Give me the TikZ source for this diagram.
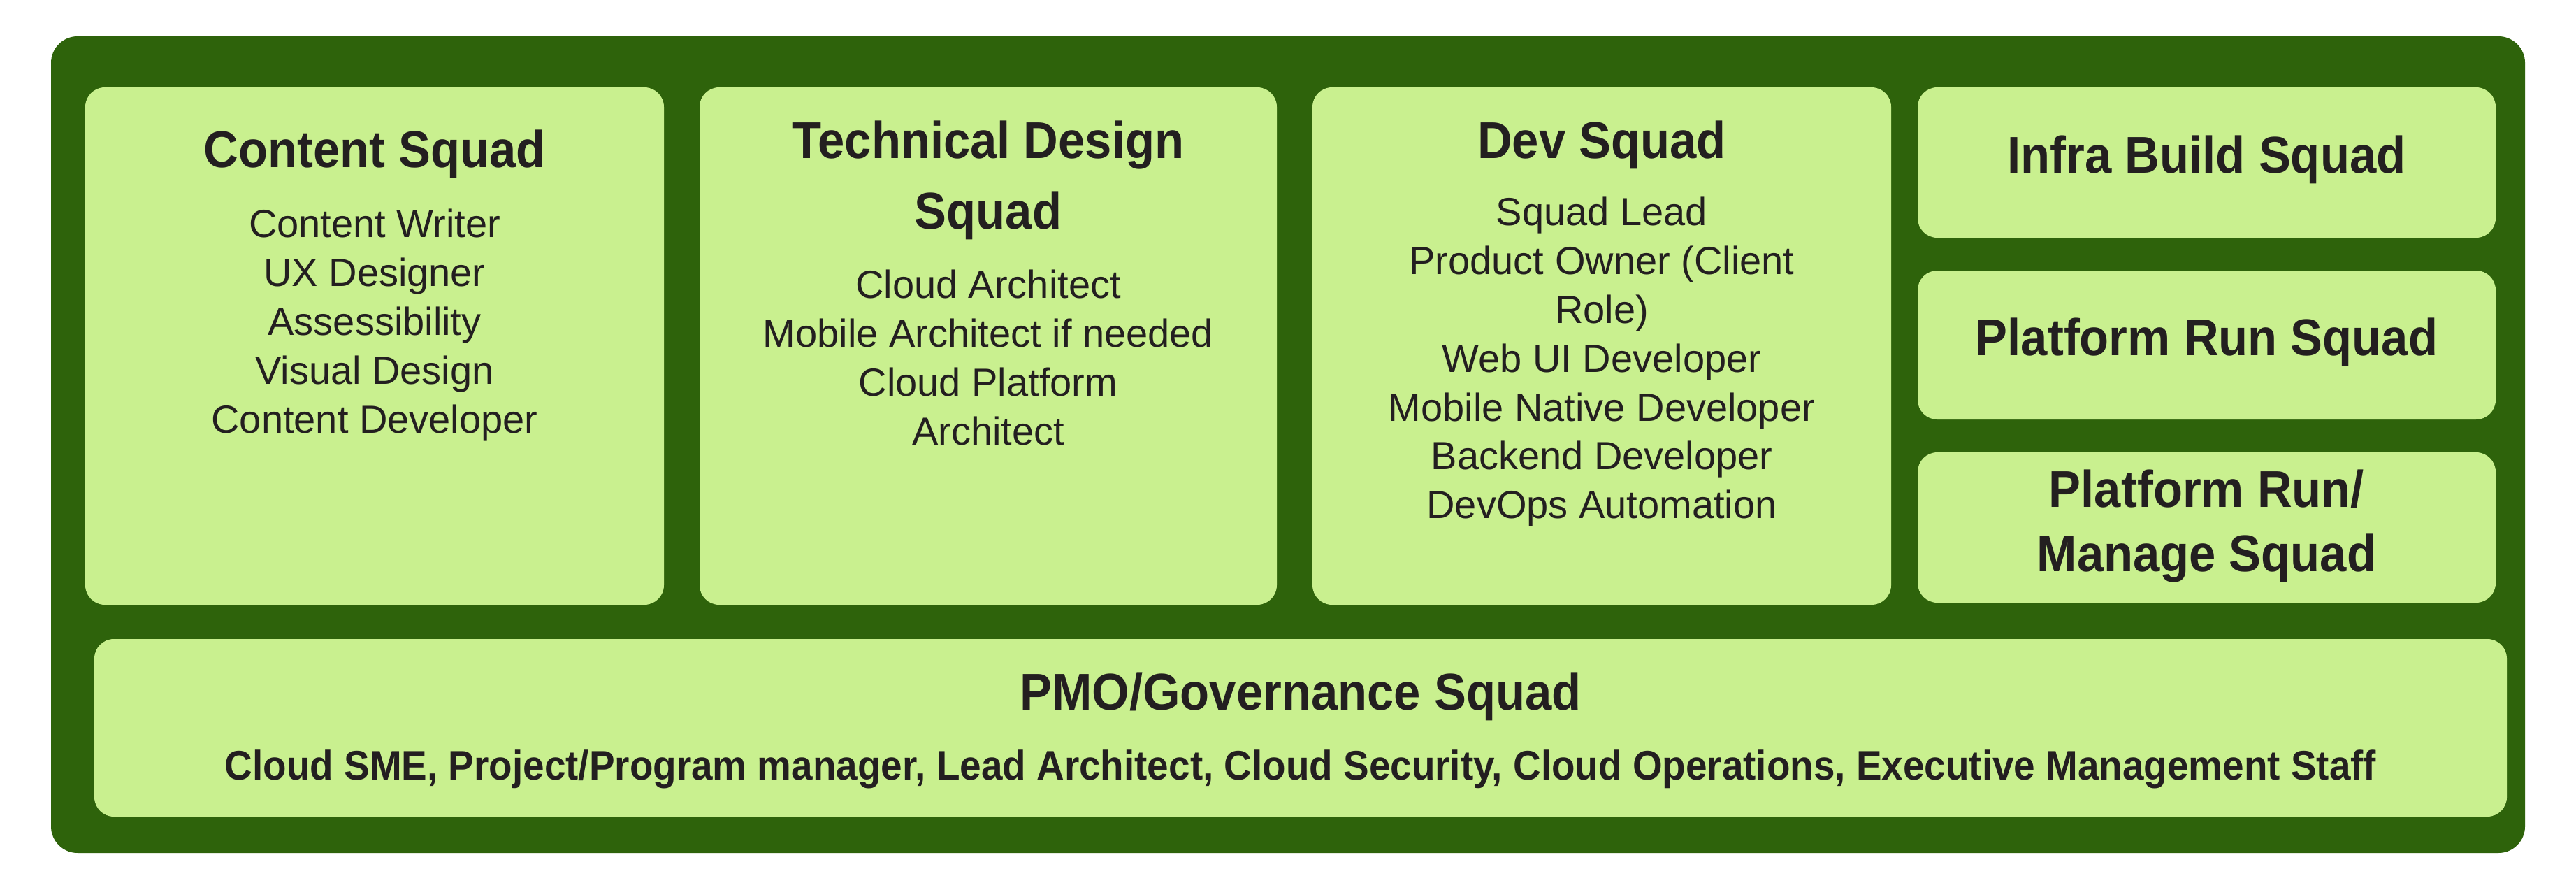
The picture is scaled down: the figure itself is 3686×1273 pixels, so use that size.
\documentclass[tikz,border=0pt]{standalone}
\usepackage{fontspec}
\setmainfont{Liberation Sans}
\newfontfamily\headfont{Liberation Sans}[FakeStretch=0.93]

\definecolor{forest}{RGB}{46,99,11}
\definecolor{leaf}{RGB}{201,240,143}
\definecolor{ink}{RGB}{35,31,32}

\tikzset{
  frame/.style={fill=forest, draw=none, rounded corners=38pt, inner sep=0pt},
  panel/.style={fill=leaf, draw=none, rounded corners=28pt, inner sep=0pt},
  squadtitle/.style={anchor=base, inner sep=0pt, text=ink,
    font=\headfont\bfseries\fontsize{74}{90}\selectfont},
  role/.style={anchor=base, inner sep=0pt, text=ink,
    font=\fontsize{56}{70}\selectfont},
  staff/.style={anchor=base, inner sep=0pt, text=ink,
    font=\headfont\bfseries\fontsize{59}{70}\selectfont},
}

\begin{document}
\begin{tikzpicture}[x=1pt, y=-1pt]
  \useasboundingbox (0,0) rectangle (3686,1273);

  % outer frame
  \node[frame, minimum width=3540pt, minimum height=1168pt] (org) at (1843,636) {};

  % squad panels
  \node[panel, minimum width=828pt, minimum height=740pt] (content) at (536,495) {};
  \node[panel, minimum width=826pt, minimum height=740pt] (tech) at (1414,495) {};
  \node[panel, minimum width=828pt, minimum height=740pt] (dev) at (2292,495) {};
  \node[panel, minimum width=827pt, minimum height=215pt] (infra) at (3157.5,232.5) {};
  \node[panel, minimum width=827pt, minimum height=213pt] (run) at (3157.5,493.5) {};
  \node[panel, minimum width=827pt, minimum height=215pt] (manage) at (3157.5,754.5) {};
  \node[panel, minimum width=3452pt, minimum height=254pt] (pmo) at (1861,1041) {};

  % Content Squad
  \node[squadtitle] (content-t) at (536,240) {Content Squad};
  \node[role] (content-1) at (536,339) {Content Writer};
  \node[role] (content-2) at (536,409) {UX Designer};
  \node[role] (content-3) at (536,479) {Assessibility};
  \node[role] (content-4) at (536,549) {Visual Design};
  \node[role] (content-5) at (536,619) {Content Developer};

  % Technical Design Squad
  \node[squadtitle] (tech-t1) at (1414,227) {Technical Design};
  \node[squadtitle] (tech-t2) at (1414,327) {Squad};
  \node[role] (tech-1) at (1414,426) {Cloud Architect};
  \node[role] (tech-2) at (1414,496) {Mobile Architect if needed};
  \node[role] (tech-3) at (1414,566) {Cloud Platform};
  \node[role] (tech-4) at (1414,636) {Architect};

  % Dev Squad
  \node[squadtitle] (dev-t) at (2292,227) {Dev Squad};
  \node[role] (dev-1) at (2292,323) {Squad Lead};
  \node[role] (dev-2) at (2292,392) {Product Owner (Client};
  \node[role] (dev-3) at (2292,462) {Role)};
  \node[role] (dev-4) at (2292,532) {Web UI Developer};
  \node[role] (dev-5) at (2292,602) {Mobile Native Developer};
  \node[role] (dev-6) at (2292,671) {Backend Developer};
  \node[role] (dev-7) at (2292,741) {DevOps Automation};

  % right-hand column
  \node[squadtitle] (infra-t) at (3157.5,248) {Infra Build Squad};
  \node[squadtitle] (run-t) at (3157.5,508) {Platform Run Squad};
  \node[squadtitle] (manage-t1) at (3157.5,725) {Platform Run/};
  \node[squadtitle] (manage-t2) at (3157.5,817) {Manage Squad};

  % PMO / Governance
  \node[squadtitle] (pmo-t) at (1861,1015) {PMO/Governance Squad};
  \node[staff] (pmo-1) at (1861,1115) {Cloud SME, Project/Program manager, Lead Architect, Cloud Security, Cloud Operations, Executive Management Staff};
\end{tikzpicture}
\end{document}
